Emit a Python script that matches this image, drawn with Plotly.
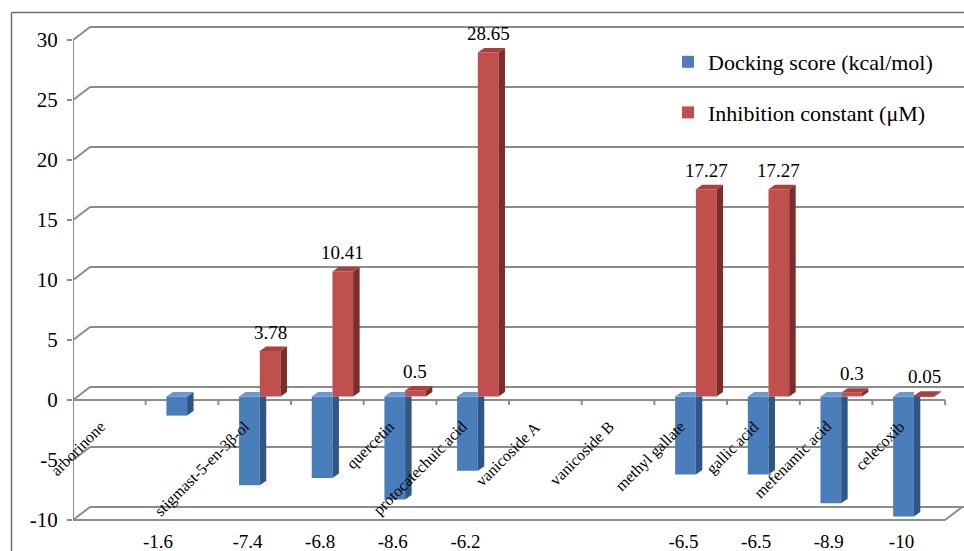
import plotly.graph_objects as go

# ---- data -------------------------------------------------------------
compounds = ["arborinone", "", "stigmast-5-en-3β-ol", "", "quercetin",
             "protocatechuic acid", "vanicoside A", "vanicoside B",
             "methyl gallate", "gallic acid", "mefenamic acid", "celecoxib"]
docking_score = [None, -1.6, -7.4, -6.8, -8.6, -6.2, None, None,
                 -6.5, -6.5, -8.9, -10]
inhibition_const = [None, None, 3.78, 10.41, 0.5, 28.65, None, None,
                    17.27, 17.27, 0.3, 0.05]
y_ticks = [-10, -5, 0, 5, 10, 15, 20, 25, 30]

# ---- geometry of the pseudo-3D frame ----------------------------------
N = len(compounds)
X_MAX = 12.26
Y_MIN, Y_MAX = -10.667, 33.333
BASE = 0.3                 # floor of the bar row (mid depth)
BAR_W = 0.285
BLUE_OFF, RED_OFF = 0.285, 0.57
DX, DY = 0.089, 0.375      # bar depth
WALL_DX, WALL_DY = 0.234, 1.083   # back wall depth
score_label_nudge = {1: -0.23}

BLUE = dict(front="#4a7ebb", side="#2f5684", top="#6b98d0")
RED = dict(front="#c0504d", side="#7e2c2a", top="#a9403d")
GRID = "#8c8c8c"
FONT = "Liberation Serif"

fig = go.Figure()


def faces(values, off, clip_next=None):
    side_x, side_y, top_x, top_y = [], [], [], []
    for i, v in enumerate(values):
        if v is None:
            continue
        xl = i + off
        xr = xl + BAR_W
        y0, y1 = BASE, BASE + v
        covered = clip_next is not None and clip_next[i] is not None
        if covered and v < 0:
            side_x += [xr, xr, xr + DX, xr + DX, None]
            side_y += [y0, y1, y1 + DY, y0, None]
        else:
            side_x += [xr, xr, xr + DX, xr + DX, None]
            side_y += [y0, y1, y1 + DY, y0 + DY, None]
        yt = max(y0, y1)
        if covered:
            top_x += [xl, xr, xr, xl + DX, None]
            top_y += [yt, yt, yt + DY, yt + DY, None]
        else:
            top_x += [xl, xr, xr + DX, xl + DX, None]
            top_y += [yt, yt, yt + DY, yt + DY, None]
    return side_x, side_y, top_x, top_y


def add_series(values, off, colors, name, group, clip_next=None):
    idx = [i for i, v in enumerate(values) if v is not None]
    vals = [values[i] for i in idx]
    fig.add_trace(go.Bar(
        x=idx, y=vals, base=BASE, width=BAR_W, offset=off,
        marker=dict(color=colors["front"], line=dict(width=0)),
        name=name, legendgroup=group, hoverinfo="skip"))
    sx, sy, tx, ty = faces(values, off, clip_next)
    for fx, fy, c in ((sx, sy, colors["side"]), (tx, ty, colors["top"])):
        fig.add_trace(go.Scatter(
            x=fx, y=fy, mode="lines", fill="toself", fillcolor=c,
            line=dict(width=0), showlegend=False, hoverinfo="skip"))


add_series(docking_score, BLUE_OFF, BLUE, "Docking score (kcal/mol)", "a",
           clip_next=inhibition_const)
add_series(inhibition_const, RED_OFF, RED, "Inhibition constant (μM)", "b")

# ---- frame: back wall grid, floor, axes --------------------------------
shapes = []
line = dict(color=GRID, width=2)
for t in y_ticks:
    shapes.append(dict(type="line", xref="x", yref="y", layer="below",
                       x0=0, y0=t, x1=WALL_DX, y1=t + WALL_DY, line=line))
    shapes.append(dict(type="line", xref="x", yref="y", layer="below",
                       x0=WALL_DX, y0=t + WALL_DY, x1=X_MAX, y1=t + WALL_DY,
                       line=line))
for t in (0, y_ticks[0]):
    shapes.append(dict(type="line", xref="x", yref="y", layer="below",
                       x0=0, y0=t, x1=N, y1=t, line=line))
shapes.append(dict(type="line", xref="x", yref="y", layer="below",
                   x0=N, y0=y_ticks[0], x1=N + WALL_DX,
                   y1=y_ticks[0] + WALL_DY, line=line))
shapes.append(dict(type="line", xref="x", yref="y", layer="below",
                   x0=0, y0=y_ticks[0], x1=0, y1=y_ticks[-1], line=line))
for k in range(1, N + 1):
    shapes.append(dict(type="line", xref="x", yref="y", layer="below",
                       x0=k, y0=0, x1=k, y1=-0.42, line=line))
# outer chart border (top and left edges)
shapes.append(dict(type="line", xref="paper", yref="paper",
                   x0=(11.5 - 73) / 891, y0=(528 - 12.5) / 528,
                   x1=1.01, y1=(528 - 12.5) / 528,
                   line=dict(color="#6e6e6e", width=1.5)))
shapes.append(dict(type="line", xref="paper", yref="paper",
                   x0=(11.5 - 73) / 891, y0=(528 - 12.5) / 528,
                   x1=(11.5 - 73) / 891, y1=-0.1,
                   line=dict(color="#6e6e6e", width=1.5)))

# ---- text --------------------------------------------------------------
annotations = []
for i, v in enumerate(inhibition_const):
    if v is None:
        continue
    annotations.append(dict(
        x=i + RED_OFF + BAR_W / 2, y=BASE + v, xref="x", yref="y",
        text=f"{v:g}", showarrow=False, yanchor="middle", yshift=19,
        font=dict(family=FONT, size=19, color="black")))
for i, name in enumerate(compounds):
    if not name:
        continue
    annotations.append(dict(
        x=i + 0.52, y=-1.25, xref="x", yref="y", text=name,
        showarrow=False, textangle=-45, xanchor="right", yanchor="top",
        font=dict(family=FONT, size=16, color="black")))

tick_pos = [i + 0.4 + score_label_nudge.get(i, 0)
            for i, v in enumerate(docking_score) if v is not None]
tick_txt = [f"{v:g}" for v in docking_score if v is not None]

fig.update_layout(
    width=964, height=551,
    margin=dict(l=73, r=0, t=0, b=23),
    paper_bgcolor="white", plot_bgcolor="white",
    barmode="overlay",
    shapes=shapes, annotations=annotations,
    font=dict(family=FONT, color="black"),
    xaxis=dict(range=[0, X_MAX], showgrid=False, zeroline=False,
               showline=False, tickmode="array", tickvals=tick_pos,
               ticktext=tick_txt, ticks="", tickfont=dict(size=19),
               fixedrange=True),
    yaxis=dict(range=[Y_MIN, Y_MAX], showgrid=False, zeroline=False,
               showline=False, tickmode="array", tickvals=y_ticks,
               ticktext=[str(t) for t in y_ticks],
               ticks="outside", ticklen=5, tickwidth=2, tickcolor=GRID,
               ticklabelstandoff=5, tickfont=dict(size=21),
               fixedrange=True),
    legend=dict(x=(668 - 73) / 891, y=(528 - 41) / 528, xanchor="left",
                yanchor="top", traceorder="grouped", tracegroupgap=19,
                font=dict(family=FONT, size=22, color="black"),
                bgcolor="rgba(0,0,0,0)"),
)

fig.write_html("out.html")
